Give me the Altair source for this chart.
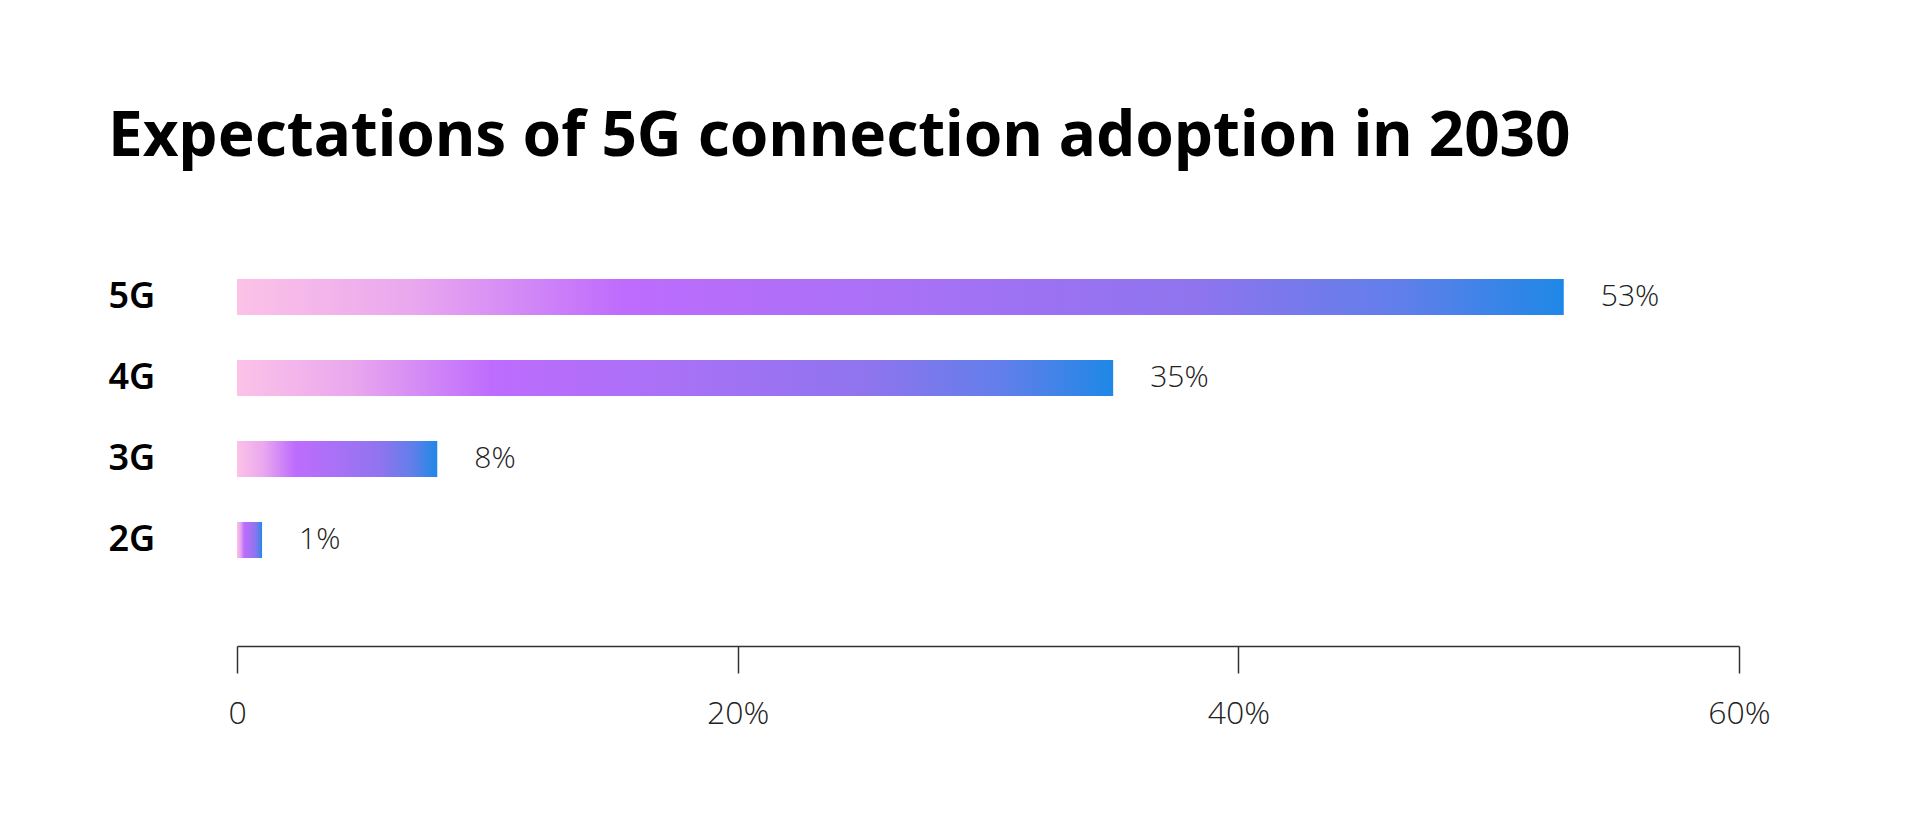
import altair as alt
import pandas as pd

categories = ["5G", "4G", "3G", "2G"]
shares = [53, 35, 8, 1]
x_ticks = [0, 20, 40, 60]
title_text = "Expectations of 5G connection adoption in 2030"

df = pd.DataFrame({"tech": categories, "share": shares})

gradient = alt.LinearGradient(
    gradient="linear",
    x1=0, y1=0, x2=1, y2=0,
    stops=[
        alt.GradientStop(color="#FCC2E7", offset=0.0),
        alt.GradientStop(color="#EAA8EE", offset=0.13),
        alt.GradientStop(color="#BE6CFD", offset=0.29),
        alt.GradientStop(color="#A871F6", offset=0.5),
        alt.GradientStop(color="#8F74EE", offset=0.72),
        alt.GradientStop(color="#5F7FEA", offset=0.88),
        alt.GradientStop(color="#1E88E6", offset=1.0),
    ],
)

y_enc = alt.Y(
    "tech:N",
    sort=categories,
    title=None,
    scale=alt.Scale(paddingInner=0.556, paddingOuter=1),
    axis=alt.Axis(
        domain=False,
        ticks=False,
        labelAlign="left",
        labelBaseline="middle",
        labelPadding=129,
        labelFontSize=36,
        labelFont="Noto Sans",
        labelFontWeight=600,
        labelColor="#000000",
    ),
)

x_enc = alt.X(
    "share:Q",
    title=None,
    scale=alt.Scale(domain=[0, 60], nice=False),
    axis=alt.Axis(
        values=x_ticks,
        grid=False,
        offset=7,
        domainColor="#333333",
        domainWidth=1.5,
        tickColor="#333333",
        tickWidth=1.5,
        tickSize=27,
        labelPadding=25,
        labelFlush=False,
        labelExpr="datum.value == 0 ? '0' : datum.value + '%'",
        labelFontSize=32,
        labelFont="Open Sans",
        labelFontWeight=300,
        labelColor="#222222",
    ),
)

base = alt.Chart(df)

bars = base.mark_bar(color=gradient).encode(x=x_enc, y=y_enc)

labels = base.transform_calculate(
    label="datum.share + '%'"
).mark_text(
    align="left",
    baseline="middle",
    dx=37,
    fontSize=30,
    font="Open Sans",
    fontWeight=300,
    color="#222222",
).encode(
    x="share:Q",
    y=alt.Y("tech:N", sort=categories),
    text="label:N",
)

chart = alt.layer(bars, labels).properties(
    width=1502,
    height=441,
    title=alt.TitleParams(
        title_text,
        anchor="start",
        fontSize=62,
        font="Noto Sans",
        fontWeight=700,
        color="#000000",
        offset=29,
    ),
    padding={"left": 100, "top": 98, "right": 40, "bottom": 40},
    background="white",
).configure_view(stroke=None)

chart.save("out.html", embed_options={"renderer": "svg", "actions": False})
